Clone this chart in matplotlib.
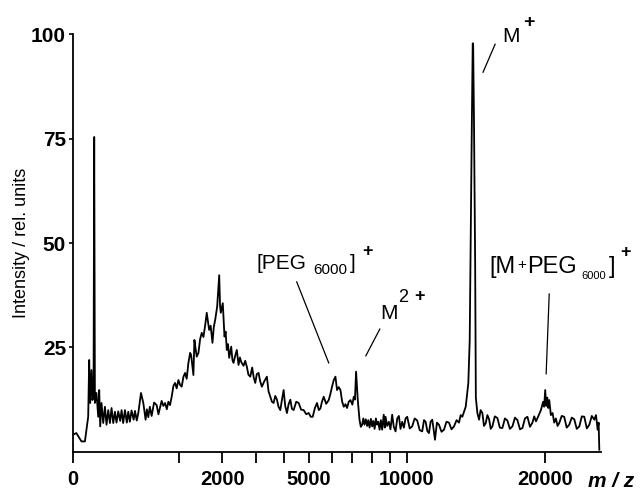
import numpy as np
import matplotlib.pyplot as plt

plt.rcParams['font.family'] = ['Liberation Sans', 'DejaVu Sans']

# spectrum (m/z, relative intensity), in pieces
# low mass region with the matrix peak
mz_low = [0, 1, 6.5, 12.8, 16.4, 20.8, 23.6, 26.6, 30.8, 34.2,
          38, 40.5, 43.2, 49.7, 57.2, 61.8, 66.6, 73.1, 82.1, 91.6,
          101, 111.6, 122.6, 133.5, 145.5, 158, 170, 184, 200, 212,
          226, 242.6, 260, 274.4, 290, 308, 330, 345, 365, 383,
          415, 444, 473, 490, 509, 530, 555, 590, 628, 655,
          680, 705, 733, 761, 790]
int_low = [4.1, 4.5, 2.5, 2.5, 5.3, 8.4, 22.0, 11.7, 19.6, 12.4,
           14, 75.4, 11.7, 14.1, 8.4, 14.8, 6.1, 11.7, 6.9, 10.8,
           6.5, 10.0, 6.9, 10.5, 6.9, 9.6, 7.0, 9.7, 7.4, 10.0,
           6.9, 10.0, 7.0, 9.6, 7.2, 9.9, 7.7, 9.8, 7.5, 9.3,
           14.1, 11.7, 7.7, 10.2, 8.3, 10.8, 8.6, 11.8, 11.2, 9.0,
           10.6, 12.2, 11.0, 11.7, 10.2]

# broad hump around 2000
mz_hump = [816, 845, 874, 905, 935, 965, 997, 1030, 1060, 1095,
           1128, 1160, 1195, 1231, 1252, 1280, 1301, 1323, 1338, 1374,
           1412, 1450, 1487, 1527, 1570, 1605, 1663, 1700, 1745, 1780,
           1814, 1865, 1890, 1918, 1940, 1960, 2013, 2059, 2090, 2122,
           2155, 2189, 2246, 2280, 2312, 2360, 2408, 2458, 2500, 2540,
           2609, 2660, 2711, 2760, 2819, 2880, 2930, 2980, 3030, 3089,
           3140, 3200, 3290, 3372, 3430, 3492, 3550, 3610, 3670, 3731,
           3790, 3855, 3920, 3980, 4040, 4106, 4170, 4237, 4300, 4368,
           4470, 4568, 4670, 4773, 4880, 4983, 5070, 5154, 5250, 5341]
int_hump = [12.0, 11.2, 13.2, 15.8, 16.5, 15.2, 17.2, 16.0, 15.6, 18.0,
            18.9, 17.5, 21.3, 23.7, 23.2, 20.5, 18.4, 26.8, 25.5, 22.8,
            23.7, 27.0, 28.5, 27.5, 30.5, 33.3, 29.2, 30.2, 26.1, 30.0,
            31.6, 34.8, 38.5, 42.3, 35.0, 33.3, 35.6, 27.6, 28.8, 24.4,
            25.8, 22.5, 25.2, 22.0, 21.3, 23.0, 24.4, 20.8, 22.6, 21.5,
            20.6, 21.8, 20.4, 18.5, 18.0, 20.2, 17.8, 16.5, 18.6, 18.9,
            17.0, 15.6, 17.0, 18.0, 14.5, 13.2, 12.0, 11.7, 13.4, 12.5,
            10.8, 10.0, 12.6, 14.8, 11.0, 9.3, 11.4, 12.5, 10.3, 10.0,
            12.0, 11.7, 10.1, 10.0, 9.0, 9.3, 8.4, 8.4, 10.5, 11.7]

# PEG 6000 and M2+
mz_peg = [5420, 5491, 5560, 5638, 5750, 5866, 5940, 6019, 6098, 6178,
          6254, 6335, 6416, 6500, 6576, 6660, 6738, 6820, 6906, 7000,
          7071, 7130, 7188, 7275]
int_peg = [10.0, 10.4, 12.0, 13.2, 11.5, 12.4, 13.8, 15.6, 17.2, 18.0,
           14.8, 15.5, 14.8, 12.0, 10.8, 11.4, 10.5, 12.0, 12.4, 11.3,
           13.2, 12.5, 19.2, 12.4]

# baseline up to and through M+
mz_mplus = [7362, 7430, 7497, 7560, 7620, 7690, 7759, 7820, 7890, 7960,
            8026, 8090, 8160, 8230, 8297, 8360, 8430, 8500, 8573, 8660,
            8720, 8763, 8850, 8949, 9040, 9138, 9230, 9333, 9430, 9526,
            9620, 9720, 9820, 9920, 10018, 10170, 10321, 10470, 10628, 10780,
            10939, 11050, 11153, 11260, 11364, 11470, 11576, 11660, 11751, 11880,
            12013, 12180, 12344, 12510, 12680, 12850, 13019, 13200, 13364, 13480,
            13595, 13833, 14018, 14116, 14190, 14263, 14330, 14360, 14420, 14506,
            14556, 14666]
int_mplus = [7.7, 6.0, 6.5, 8.0, 6.5, 7.8, 6.2, 7.6, 5.8, 7.9,
             6.1, 7.4, 5.5, 8.0, 6.5, 7.2, 5.3, 7.6, 5.3, 8.9,
             5.8, 8.4, 6.2, 7.2, 5.4, 8.9, 6.0, 4.9, 8.0, 8.6,
             5.5, 7.2, 5.8, 8.0, 8.4, 5.6, 6.1, 8.0, 7.5, 5.2,
             4.9, 7.6, 7.2, 5.0, 4.5, 7.2, 7.7, 5.5, 2.9, 7.0,
             6.5, 4.8, 5.3, 7.2, 7.0, 5.4, 6.1, 7.6, 7.0, 8.8,
             8.4, 10.8, 16.5, 26.8, 53, 77, 97.8, 97.8, 80, 45,
             13, 9.3]

# high mass end with M+PEG
mz_high = [14789, 14900, 15031, 15150, 15280, 15400, 15530, 15650, 15776, 15960,
           16156, 16340, 16538, 16730, 16926, 17120, 17318, 17520, 17716, 17920,
           18118, 18320, 18523, 18730, 18933, 19080, 19224, 19430, 19637, 19820,
           19910, 19999, 20090, 20180, 20260, 20345, 20480, 20627, 20770, 20916,
           21060, 21206, 21420, 21641, 21860, 22090, 22310, 22537, 22760, 22993,
           23220, 23446, 23680, 23910, 24140, 24376, 24530, 24690, 24780, 24844]
int_high = [7.7, 10.0, 9.3, 6.2, 6.9, 8.8, 7.8, 5.5, 6.1, 8.5,
            8.1, 5.8, 5.7, 8.0, 7.5, 5.5, 6.1, 8.2, 7.6, 5.4,
            5.7, 8.0, 8.4, 6.0, 7.0, 8.5, 7.3, 8.6, 10.0, 12.0,
            10.8, 14.8, 11.0, 13.0, 10.5, 12.4, 8.8, 9.3, 7.0, 8.0,
            6.2, 6.9, 8.6, 8.4, 5.8, 6.5, 8.2, 7.8, 5.5, 6.1,
            8.5, 8.4, 5.6, 6.5, 8.6, 7.7, 8.8, 5.3, 7.0, 0.5]

mz = mz_low + mz_hump + mz_peg + mz_mplus + mz_high
intensity = int_low + int_hump + int_peg + int_mplus + int_high

major_ticks = [0, 2000, 5000, 10000, 20000]
minor_ticks = [1000, 3000, 4000, 6000, 7000, 8000, 9000]
y_ticks = [25, 50, 75, 100]

fig = plt.figure(figsize=(6.4, 4.96), dpi=100)
ax = fig.add_axes([0.114, 0.089, 0.825, 0.842])

ax.plot(mz, intensity, color='black', lw=1.3)

# time-of-flight like axis: position goes with sqrt(m/z)
ax.set_xscale('function', functions=(lambda x: np.sqrt(np.clip(x, 0, None)), np.square))
ax.set_xlim(0, 25000)
ax.set_ylim(0, 100)

ax.set_xticks(major_ticks)
ax.set_xticklabels([str(t) for t in major_ticks], fontsize=14.5, fontweight='bold')
ax.set_xticks(minor_ticks, minor=True)
ax.tick_params(axis='x', which='both', direction='out', length=8, width=1.3, pad=5)
ax.set_yticks(y_ticks)
ax.set_yticklabels([str(t) for t in y_ticks], fontsize=15, fontweight='bold')
ax.tick_params(axis='y', direction='out', length=3, width=1.2, pad=2)

for s in ['top', 'right']:
    ax.spines[s].set_visible(False)
for s in ['left', 'bottom']:
    ax.spines[s].set_linewidth(1.3)

ax.set_ylabel('Intensity / rel. units', fontsize=13, labelpad=1)
fig.text(588 / 640, 1 - 487 / 496, 'm / z', fontsize=15, fontweight='bold',
         style='italic', ha='left', va='baseline')

# pointer lines to the peaks
ax.plot([15080, 15980], [90.9, 97.6], color='black', lw=0.9, clip_on=False)
ax.plot([4490, 5866], [40.7, 21.3], color='black', lw=0.9)
ax.plot([8443, 7693], [29.4, 23.0], color='black', lw=0.9)
ax.plot([20340, 20080], [37.8, 18.7], color='black', lw=0.9)


def lab(px, py, s, size=15, va='baseline', weight='normal'):
    # label pieces placed in pixel positions of the figure
    fig.text(px / 640, 1 - py / 496, s, fontsize=size, ha='left', va=va,
             fontweight=weight)


lab(502, 42, 'M')
lab(523, 22, '+', 14, 'center', 'bold')

lab(256, 269, '[PEG')
lab(313, 274, '6000', 11)
lab(350, 269, ']')
lab(362, 251, '+', 13, 'center', 'bold')

lab(380, 319, 'M')
lab(398, 297, '2', 13, 'center')
lab(414, 297, '+', 13, 'center', 'bold')

lab(489, 273, '[M', 17)
lab(517, 269, '+', 11)
lab(527, 273, 'PEG', 17)
lab(581, 279, '6000', 8)
lab(609, 273, ']', 17)
lab(620, 252, '+', 13, 'center', 'bold')

fig.savefig('out.png', dpi=100)
